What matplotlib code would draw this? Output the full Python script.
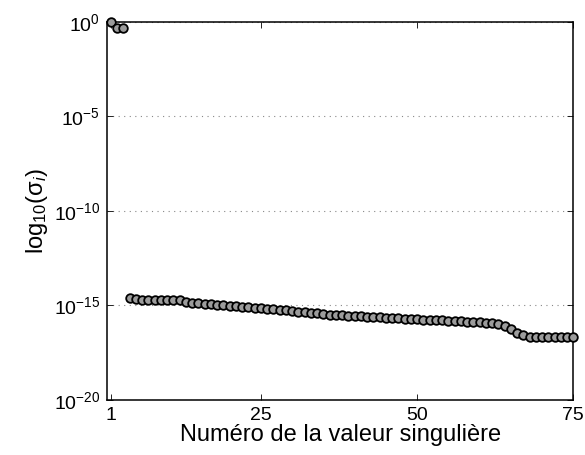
import matplotlib
matplotlib.use("Agg")
import matplotlib.pyplot as plt
import numpy as np

plt.rcParams['font.family'] = ['Liberation Sans', 'DejaVu Sans']
plt.rcParams['mathtext.fontset'] = 'custom'
plt.rcParams['mathtext.rm'] = 'Liberation Sans'
plt.rcParams['mathtext.it'] = 'Liberation Sans:italic'

# singular values (index 1..75)
top_values = [1.0, 0.48, 0.46]
floor_values = [
    2.40e-15, 2.07e-15, 1.95e-15, 1.95e-15, 1.95e-15, 1.95e-15, 1.95e-15, 1.95e-15,
    1.84e-15, 1.44e-15, 1.36e-15, 1.28e-15, 1.20e-15, 1.13e-15, 1.06e-15, 1.00e-15,
    9.4e-16, 8.85e-16, 8.3e-16, 7.8e-16, 7.4e-16, 6.9e-16, 6.5e-16, 6.1e-16,
    5.8e-16, 5.4e-16, 5.1e-16, 4.5e-16, 4.3e-16, 4.0e-16, 3.8e-16, 3.55e-16,
    3.15e-16, 2.96e-16, 2.96e-16, 2.78e-16, 2.62e-16, 2.62e-16, 2.47e-16, 2.32e-16,
    2.32e-16, 2.18e-16, 2.05e-16, 2.05e-16, 1.93e-16, 1.93e-16, 1.82e-16, 1.71e-16,
    1.71e-16, 1.61e-16, 1.61e-16, 1.51e-16, 1.42e-16, 1.42e-16, 1.34e-16, 1.26e-16,
    1.26e-16, 1.19e-16, 1.12e-16, 1.05e-16, 7.7e-17, 5.7e-17, 3.5e-17, 2.6e-17,
    2.15e-17, 2.15e-17, 2.15e-17, 2.15e-17, 2.15e-17, 2.15e-17, 2.15e-17, 2.15e-17,
]
sigma = top_values + floor_values
index = list(range(1, len(sigma) + 1))

xticks = [1, 25, 50, 75]
yticks = [1e-20, 1e-15, 1e-10, 1e-5, 1e0]
ytick_labels = [r'$10^{-20}$', r'$10^{-15}$', r'$10^{-10}$', r'$10^{-5}$', r'$10^{0}$']

fig = plt.figure(figsize=(5.85, 4.55), dpi=100)
ax = fig.add_axes([0.183, 0.121, 0.797, 0.831])

ax.semilogy(index, sigma, linestyle='none', marker='o', markersize=6.2,
            markerfacecolor='#9c9c9c', markeredgecolor='black', markeredgewidth=1.3,
            clip_on=False, zorder=3)

ax.set_xlim(0.4, 75.0)
ax.set_ylim(1e-20, 1e0)
ax.set_xticks(xticks)
ax.set_xticklabels([str(t) for t in xticks])
ax.set_yticks(yticks)
ax.set_yticklabels(ytick_labels)
ax.yaxis.set_minor_locator(matplotlib.ticker.NullLocator())
ax.xaxis.set_minor_locator(matplotlib.ticker.NullLocator())

ax.tick_params(axis='both', which='major', direction='in', top=True, right=True,
               length=4, width=0.6, labelsize=14, pad=5)
ax.grid(axis='y', which='major', linestyle=(0, (1, 4)), color='#888888', linewidth=0.8)
for s in ax.spines.values():
    s.set_linewidth(1.1)

ax.set_xlabel('Numéro de la valeur singulière', fontsize=17, labelpad=0)
ax.set_ylabel(r'log$_{10}$(σ$_i$)', fontsize=17, labelpad=3)

fig.savefig('out.png', dpi=100)
